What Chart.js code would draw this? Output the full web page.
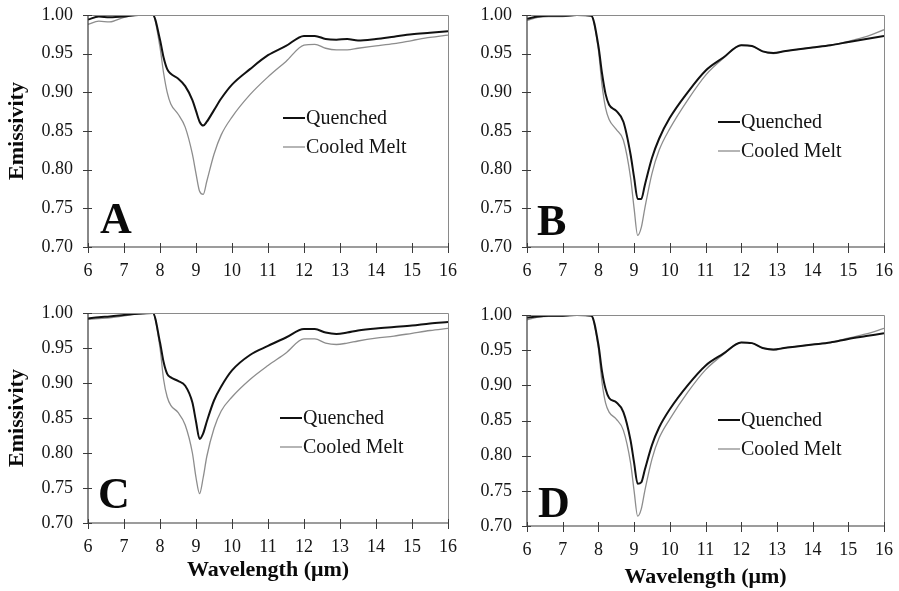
<!DOCTYPE html>
<html><head><meta charset="utf-8">
<script src="https://cdn.jsdelivr.net/npm/chart.js@4.4.0/dist/chart.umd.min.js"></script>
<style>
html,body{margin:0;padding:0;background:#fff;overflow:hidden;width:899px;height:591px;}
canvas{position:absolute;}
</style></head><body>
<canvas id="cA" width="462" height="295" style="left:0;top:0"></canvas>
<canvas id="cB" width="459" height="295" style="left:440px;top:0"></canvas>
<canvas id="cC" width="462" height="296" style="left:0;top:295px"></canvas>
<canvas id="cD" width="459" height="296" style="left:440px;top:295px"></canvas>
<script>
// ---- data ----
const wavelengths = [6.0, 6.3, 6.6, 7.0, 7.4, 7.8, 8.0, 8.1, 8.2, 8.3, 8.5, 8.7, 8.9, 9.0, 9.1, 9.2, 9.3, 9.5, 9.7, 10.0, 10.5, 11.0, 11.5, 12.0, 12.3, 12.6, 12.9, 13.2, 13.5, 14.0, 14.5, 15.0, 15.5, 16.0];

const quenchedA = [0.994, 0.998, 0.997, 0.998, 1.0, 1.0, 0.968, 0.945, 0.930, 0.924, 0.918, 0.908, 0.890, 0.876, 0.862, 0.857, 0.862, 0.877, 0.892, 0.910, 0.930, 0.948, 0.960, 0.973, 0.973, 0.969, 0.968, 0.969, 0.967, 0.969, 0.972, 0.975, 0.977, 0.979];
const cooledA   = [0.988, 0.992, 0.991, 0.997, 1.0, 1.0, 0.958, 0.925, 0.900, 0.885, 0.872, 0.855, 0.820, 0.795, 0.772, 0.768, 0.785, 0.820, 0.845, 0.868, 0.897, 0.920, 0.940, 0.961, 0.962, 0.957, 0.955, 0.955, 0.957, 0.960, 0.963, 0.967, 0.971, 0.974];

const quenchedB = [0.995, 0.998, 0.999, 0.999, 1.0, 0.999, 0.960, 0.925, 0.898, 0.884, 0.876, 0.862, 0.820, 0.790, 0.762, 0.762, 0.780, 0.815, 0.840, 0.867, 0.900, 0.928, 0.945, 0.961, 0.960, 0.953, 0.951, 0.953, 0.955, 0.958, 0.961, 0.965, 0.969, 0.973];
const cooledB   = [0.993, 0.997, 0.998, 0.998, 1.0, 0.999, 0.955, 0.910, 0.880, 0.865, 0.852, 0.838, 0.790, 0.750, 0.715, 0.725, 0.750, 0.795, 0.825, 0.853, 0.890, 0.922, 0.944, 0.961, 0.960, 0.953, 0.950, 0.953, 0.955, 0.958, 0.961, 0.966, 0.972, 0.981];

const quenchedC = [0.992, 0.994, 0.995, 0.997, 0.999, 1.0, 0.958, 0.930, 0.913, 0.908, 0.903, 0.896, 0.872, 0.845, 0.820, 0.828, 0.845, 0.875, 0.895, 0.918, 0.940, 0.953, 0.965, 0.977, 0.977, 0.972, 0.970, 0.972, 0.975, 0.978, 0.980, 0.982, 0.985, 0.987];
const cooledC   = [0.991, 0.992, 0.993, 0.996, 0.999, 1.0, 0.950, 0.905, 0.880, 0.868, 0.858, 0.840, 0.800, 0.765, 0.742, 0.765, 0.795, 0.835, 0.860, 0.880, 0.905, 0.925, 0.943, 0.963, 0.963, 0.957, 0.955, 0.957, 0.960, 0.964, 0.967, 0.971, 0.975, 0.978];

const quenchedD = [0.996, 0.998, 0.999, 0.999, 1.0, 0.999, 0.958, 0.920, 0.895, 0.882, 0.876, 0.862, 0.822, 0.790, 0.760, 0.762, 0.780, 0.815, 0.840, 0.866, 0.900, 0.928, 0.945, 0.961, 0.960, 0.953, 0.951, 0.953, 0.955, 0.958, 0.961, 0.966, 0.970, 0.974];
const cooledD   = [0.993, 0.997, 0.998, 0.998, 1.0, 0.999, 0.952, 0.905, 0.875, 0.862, 0.852, 0.836, 0.790, 0.750, 0.714, 0.724, 0.750, 0.795, 0.825, 0.852, 0.890, 0.922, 0.944, 0.961, 0.960, 0.953, 0.950, 0.953, 0.955, 0.958, 0.961, 0.967, 0.973, 0.981];

const xTicks = [6, 7, 8, 9, 10, 11, 12, 13, 14, 15, 16];
const yTicks = [0.70, 0.75, 0.80, 0.85, 0.90, 0.95, 1.00];
const seriesNames = ['Quenched', 'Cooled Melt'];
const panelLetters = ['A', 'B', 'C', 'D'];
const xAxisTitle = 'Wavelength (μm)';
const yAxisTitle = 'Emissivity';

// ---- styling ----
const SERIF = '"Liberation Serif", "Times New Roman", serif';
const Q_COLOR = '#111111', C_COLOR = '#8d8d8d';

const decor = {
  id: 'decor',
  afterDraw(chart, args, o) {
    const {ctx, chartArea: a, scales: {x, y}} = chart;
    ctx.save();
    // top & right frame
    ctx.strokeStyle = '#8a8a8a'; ctx.lineWidth = 1;
    ctx.beginPath();
    ctx.moveTo(a.left, Math.round(a.top) + 0.5);
    ctx.lineTo(Math.round(a.right) + 0.5, Math.round(a.top) + 0.5);
    ctx.lineTo(Math.round(a.right) + 0.5, a.bottom);
    ctx.stroke();
    // axes
    ctx.strokeStyle = '#3a3a3a'; ctx.lineWidth = 1.2;
    ctx.beginPath();
    ctx.moveTo(a.left, a.top); ctx.lineTo(a.left, a.bottom); ctx.lineTo(a.right, a.bottom);
    ctx.stroke();
    // crossing tick marks
    ctx.lineWidth = 1;
    ctx.beginPath();
    for (const v of xTicks) { const px = Math.round(x.getPixelForValue(v)) + 0.5; ctx.moveTo(px, a.bottom - 4); ctx.lineTo(px, a.bottom + 6); }
    for (const v of yTicks) { const py = Math.round(y.getPixelForValue(v)) + 0.5; ctx.moveTo(a.left - 5, py); ctx.lineTo(a.left + 4, py); }
    ctx.stroke();
    // panel letter
    ctx.fillStyle = '#0a0a0a';
    ctx.font = 'bold 44px ' + SERIF;
    ctx.textBaseline = 'alphabetic'; ctx.textAlign = 'left';
    ctx.fillText(o.letter, a.left + o.lx, a.bottom - o.ly);
    // legend
    ctx.font = '20px ' + SERIF;
    ctx.textBaseline = 'middle';
    chart.data.datasets.forEach((ds, i) => {
      const lx = a.left + o.legX, ly = a.top + o.legY + i * 29;
      ctx.strokeStyle = ds.borderColor; ctx.lineWidth = ds.borderWidth;
      ctx.beginPath(); ctx.moveTo(lx, ly); ctx.lineTo(lx + 22, ly); ctx.stroke();
      ctx.fillStyle = '#151515';
      ctx.fillText(ds.label, lx + 23, ly + 1);
    });
    ctx.restore();
  }
};

function makePanel(id, q, c, cfg) {
  const pts = arr => wavelengths.map((w, i) => ({x: w, y: arr[i]}));
  new Chart(document.getElementById(id), {
    type: 'line',
    data: {datasets: [
      {label: seriesNames[0], data: pts(q), borderColor: Q_COLOR, borderWidth: 2, pointRadius: 0, cubicInterpolationMode: 'monotone', fill: false},
      {label: seriesNames[1], data: pts(c), borderColor: C_COLOR, borderWidth: 1.3, pointRadius: 0, cubicInterpolationMode: 'monotone', fill: false}
    ]},
    options: {
      responsive: false, animation: false, events: [],
      layout: {padding: {top: cfg.padTop, right: cfg.padRight, left: 0, bottom: 0}},
      plugins: {legend: {display: false}, tooltip: {enabled: false},
        decor: {letter: cfg.letter, lx: cfg.lx, ly: cfg.ly, legX: cfg.legX, legY: cfg.legY}},
      scales: {
        x: {type: 'linear', min: 6, max: 16,
          afterBuildTicks: s => { s.ticks = xTicks.map(v => ({value: v})); },
          afterFit: s => { s.height = cfg.xH; s.paddingLeft = 0; s.paddingRight = 0; },
          grid: {display: false, drawTicks: false}, border: {display: false},
          ticks: {font: {family: SERIF, size: 18}, color: '#151515', padding: 13, maxRotation: 0, autoSkip: false, callback: v => String(v)},
          title: {display: cfg.xTitle, text: xAxisTitle, color: '#0a0a0a', font: {family: SERIF, size: 22, weight: 'bold'}, padding: {top: 0, bottom: cfg.xtPad}}
        },
        y: {type: 'linear', min: 0.70, max: 1.00,
          afterBuildTicks: s => { s.ticks = yTicks.map(v => ({value: v})); },
          afterFit: s => { s.width = cfg.yW; s.paddingTop = 0; s.paddingBottom = 0; },
          grid: {display: false, drawTicks: false}, border: {display: false},
          ticks: {font: {family: SERIF, size: 18}, color: '#151515', padding: 15, callback: v => Number(v).toFixed(2)},
          title: {display: cfg.yTitle, text: yAxisTitle, color: '#0a0a0a', font: {family: SERIF, size: 22, weight: 'bold'}, padding: {top: 4, bottom: 0}}
        }
      }
    },
    plugins: [decor]
  });
}

makePanel('cA', quenchedA, cooledA, {letter: panelLetters[0], padTop: 15, padRight: 14, yW: 88, xH: 48, xTitle: false, yTitle: true, xtPad: 0, lx: 12, ly: 14, legX: 195, legY: 103});
makePanel('cB', quenchedB, cooledB, {letter: panelLetters[1], padTop: 15, padRight: 15, yW: 87, xH: 48, xTitle: false, yTitle: false, xtPad: 0, lx: 10, ly: 12, legX: 191, legY: 107});
makePanel('cC', quenchedC, cooledC, {letter: panelLetters[2], padTop: 18, padRight: 14, yW: 88, xH: 68, xTitle: true, yTitle: true, xtPad: 7, lx: 10, ly: 15, legX: 192, legY: 105});
makePanel('cD', quenchedD, cooledD, {letter: panelLetters[3], padTop: 20, padRight: 15, yW: 87, xH: 65, xTitle: true, yTitle: false, xtPad: 0, lx: 11, ly: 9, legX: 191, legY: 105});
</script>
</body></html>
